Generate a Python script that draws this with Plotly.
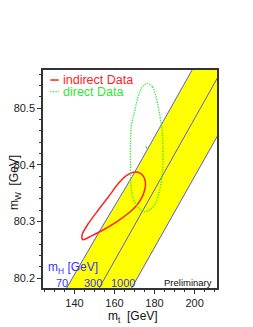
import plotly.graph_objects as go

# Higgs-mass bands (m_t, m_W)
h70_mt = [134.1, 152.9, 168.8, 183.8, 203.9]
h70_mw = [80.170, 80.285, 80.379, 80.472, 80.600]
h300_mt = [150.4, 218.8]
h300_mw = [80.170, 80.600]
h1000_mt = [166.6, 235.2]
h1000_mw = [80.170, 80.600]

# indirect data contour
ind_mt = [143.8, 147.1, 152.1, 157.1, 162.1, 166.3, 169.6, 173.0, 175.0, 175.5, 174.6,
          173.0, 170.5, 167.1, 160.5, 153.8, 148.8, 145.5, 144.1, 143.8]
ind_mw = [80.276, 80.297, 80.321, 80.344, 80.368, 80.382, 80.387, 80.385, 80.376, 80.365,
          80.350, 80.338, 80.326, 80.315, 80.298, 80.284, 80.275, 80.269, 80.268, 80.276]

# direct data contour
dir_mt = [176.3, 179.0, 180.5, 182.6, 183.8, 184.2, 184.2, 183.8, 182.6, 180.5, 178.0,
          175.0, 172.1, 169.6, 168.2, 168.0, 168.0, 168.5, 169.6, 171.0, 172.1, 174.0, 176.3]
dir_mw = [80.544, 80.538, 80.524, 80.488, 80.459, 80.426, 80.400, 80.382, 80.356, 80.332,
          80.322, 80.317, 80.324, 80.338, 80.365, 80.400, 80.441, 80.471, 80.488, 80.509,
          80.524, 80.538, 80.544]
dir_center = (175.95, 80.4305)

x_ticks = [140, 160, 180, 200]
y_ticks = [80.2, 80.3, 80.4, 80.5]

FONT = "Liberation Sans, Arial, sans-serif"
BLUE = "#5a5ad6"
RED = "#ff2222"
GREEN = "#33e633"

fig = go.Figure()

# yellow band between mH=70 and mH=1000
fig.add_trace(go.Scatter(
    x=h70_mt + h1000_mt[::-1], y=h70_mw + h1000_mw[::-1],
    fill="toself", fillcolor="#ffff00", mode="lines", line=dict(width=0),
    hoverinfo="skip", showlegend=False))
for mt, mw in [(h70_mt, h70_mw), (h300_mt, h300_mw), (h1000_mt, h1000_mw)]:
    fig.add_trace(go.Scatter(x=mt, y=mw, mode="lines",
                             line=dict(color=BLUE, width=1), showlegend=False))

fig.add_trace(go.Scatter(x=ind_mt, y=ind_mw, mode="lines", line_shape="spline",
                         line=dict(color=RED, width=1.5), name="indirect Data",
                         showlegend=False))
fig.add_trace(go.Scatter(x=dir_mt, y=dir_mw, mode="lines", line_shape="spline",
                         line=dict(color=GREEN, width=1.3, dash="1.3px,1.3px"),
                         name="direct Data", showlegend=False))
fig.add_trace(go.Scatter(x=[dir_center[0]], y=[dir_center[1]], mode="markers",
                         marker=dict(color=GREEN, size=2), showlegend=False))

axis_common = dict(showline=True, mirror=True, linecolor="#333333", linewidth=1.5,
                   ticks="outside", ticklen=4, tickcolor="#333333", tickwidth=1,
                   showgrid=False, zeroline=False,
                   tickfont=dict(family=FONT, size=11, color="#222222"))

fig.update_xaxes(range=[124.3, 211.2], tickvals=x_ticks,
                 minor=dict(dtick=5, tick0=0, ticks="outside", ticklen=2,
                            tickcolor="#333333"), **axis_common)
fig.update_yaxes(range=[80.1824, 80.5676], tickvals=y_ticks, tickformat=".1f",
                 minor=dict(dtick=0.02, tick0=80.0, ticks="outside", ticklen=2,
                            tickcolor="#333333"), **axis_common)

ann = []
def txt(x, y, s, color, size, xanchor="left", angle=0):
    ann.append(dict(x=x, y=y, xref="paper", yref="paper", text=s, showarrow=False,
                    xanchor=xanchor, yanchor="middle", textangle=angle,
                    font=dict(family=FONT, size=size, color=color)))

txt(0.1034, 0.954, "indirect Data", RED, 12.5)
txt(0.1034, 0.9006, "direct Data", GREEN, 12.5)
txt(0.020, 0.0916, "m<sub>H</sub> [GeV]", "#3333ff", 12)
txt(0.065, 0.023, "70", "#3333ff", 11)
txt(0.224, 0.023, "300", "#3333ff", 11)
txt(0.381, 0.023, "1000", "#3333ff", 11)
txt(0.980, 0.0275, "Preliminary", "#111111", 9.5, xanchor="right")
txt(0.519, -0.134, "m<sub>t</sub>\u00a0\u00a0[GeV]", "#111111", 12, xanchor="center")
txt(-0.16, 0.482, "m<sub>W</sub>\u00a0\u00a0[GeV]", "#111111", 12, xanchor="center", angle=-90)

shapes = [
    dict(type="line", xref="paper", yref="paper", x0=0.042, x1=0.090, y0=0.954, y1=0.954,
         line=dict(color=RED, width=1.5)),
    dict(type="line", xref="paper", yref="paper", x0=0.042, x1=0.090, y0=0.9006, y1=0.9006,
         line=dict(color=GREEN, width=1.3, dash="1.3px,1.3px")),
]

fig.update_layout(width=253, height=327, margin=dict(l=43, r=36, t=70, b=39),
                  paper_bgcolor="white", plot_bgcolor="white",
                  annotations=ann, shapes=shapes, showlegend=False,
                  font=dict(family=FONT))

fig.write_html("out.html", config={"displayModeBar": False},
               post_script="document.body.style.margin='0';document.body.style.padding='0';")
